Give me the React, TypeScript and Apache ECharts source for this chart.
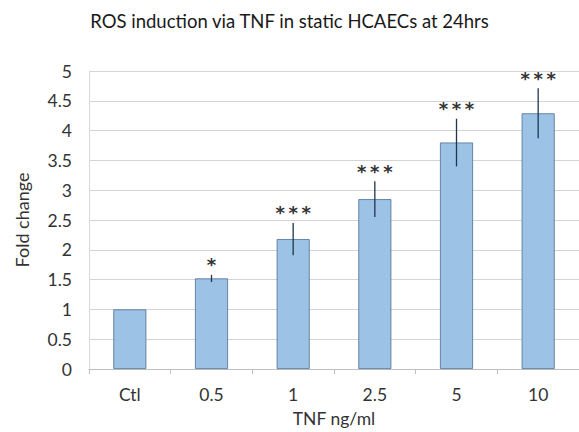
import React, { useEffect, useRef } from "react";
import * as echarts from "echarts";

const categories = ["Ctl", "0.5", "1", "2.5", "5", "10"];
const foldChange = [1.0, 1.52, 2.18, 2.85, 3.8, 4.29];
const errorSize = [0, 0.06, 0.27, 0.3, 0.4, 0.42];
const significance = ["", "*", "***", "***", "***", "***"];

export default function App() {
  const ref = useRef<HTMLDivElement>(null);
  useEffect(() => {
    document.body.style.margin = "0";
    const chart = echarts.init(ref.current!, null, { renderer: "svg" });
    const errData = categories.map((c, i) => [i, foldChange[i] - errorSize[i], foldChange[i] + errorSize[i]]);
    const font = "Lato, 'Open Sans', sans-serif";
    chart.setOption({
      animation: false,
      backgroundColor: "#ffffff",
      title: {
        text: "ROS induction via TNF in static HCAECs at 24hrs",
        left: "center",
        top: 6,
        textStyle: { fontFamily: font, fontSize: 18.5, fontWeight: "normal", color: "#1a1a1a" },
      },
      grid: { left: 89, top: 71, width: 498, height: 298 },
      xAxis: {
        type: "category",
        data: categories,
        name: "TNF ng/ml",
        nameLocation: "middle",
        nameGap: 40,
        nameTextStyle: { fontFamily: font, fontSize: 17.5, color: "#333" },
        axisLine: { lineStyle: { color: "#bfbfbf", width: 1 } },
        axisTick: { show: true, length: 5, lineStyle: { color: "#bfbfbf" } },
        axisLabel: { fontFamily: font, fontSize: 17.5, color: "#333", margin: 16 },
      },
      yAxis: {
        type: "value",
        min: 0,
        max: 5,
        interval: 0.5,
        name: "Fold change",
        nameLocation: "middle",
        nameGap: 58,
        nameRotate: 90,
        nameTextStyle: { fontFamily: font, fontSize: 18, color: "#333" },
        axisLine: { show: true, lineStyle: { color: "#d9d9d9" } },
        axisTick: { show: false },
        axisLabel: { fontFamily: font, fontSize: 17.5, color: "#333", margin: 17 },
        splitLine: { lineStyle: { color: "#d4d4d4", width: 1 } },
      },
      series: [
        {
          type: "bar",
          data: foldChange,
          barWidth: 33,
          itemStyle: { color: "#9cc2e5", borderColor: "#4d6f94", borderWidth: 0.8 },
        },
        {
          type: "custom",
          data: errData,
          z: 10,
          renderItem: (params: any, api: any) => {
            const i = api.value(0);
            const lo = api.coord([i, api.value(1)]);
            const hi = api.coord([i, api.value(2)]);
            const star = significance[params.dataIndex];
            const children: any[] = [];
            if (errorSize[params.dataIndex] > 0) {
              children.push({
                type: "line",
                shape: { x1: hi[0], y1: hi[1], x2: lo[0], y2: lo[1] },
                style: { stroke: "#1f3550", lineWidth: 1.3 },
              });
            }
            if (star) {
              children.push({
                type: "text",
                x: hi[0],
                y: hi[1] - 10,
                style: {
                  text: star.split("").join("\u2009"),
                  fontFamily: "'DejaVu Sans', sans-serif",
                  fontSize: 18,
                  fontWeight: "bold",
                  fill: "#333",
                  align: "center",
                  verticalAlign: "middle",
                },
              });
            }
            return { type: "group", children };
          },
        },
      ],
    });
    return () => chart.dispose();
  }, []);
  return <div ref={ref} style={{ width: 579, height: 432 }} />;
}
